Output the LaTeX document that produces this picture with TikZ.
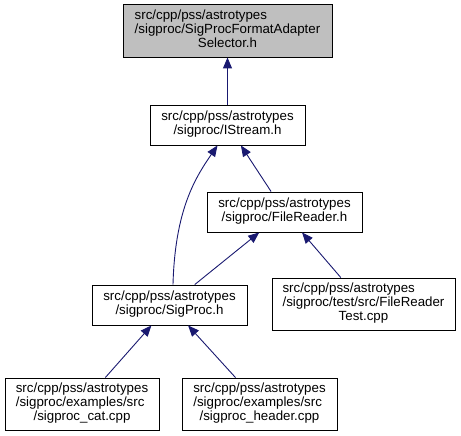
\documentclass[tikz,border=0pt]{standalone}
\usepackage{fontspec}
\setmainfont{Liberation Sans}
\usepackage{xcolor}
\usepackage{tikz}
\usetikzlibrary{arrows.meta}

\definecolor{edgeblue}{HTML}{191970}
\definecolor{curgray}{HTML}{BFBFBF}
\newcommand{\flbl}[2]{\begin{tabular}{@{}c@{}}\begin{tabular}[b]{@{}l@{}}#1\end{tabular}\\#2\end{tabular}}

\begin{document}
\begin{tikzpicture}[x=1pt,y=-1pt,
    file/.style={draw=black,line width=0.9pt,inner sep=0pt,
      font=\fontsize{13.3}{14}\selectfont},
    edge/.style={draw=edgeblue,line width=0.9pt,
      {Triangle[length=11pt,width=9pt]}-}]
  \useasboundingbox (0,0) rectangle (461,436);
  % files
  \node[file,fill=curgray,minimum width=209,minimum height=53] (selector) at (227.5,30.5)
    {\flbl{src/cpp/pss/astrotypes\\/sigproc/SigProcFormatAdapter}{Selector.h}};
  \node[file,minimum width=155,minimum height=40] (istream) at (227.5,125)
    {\flbl{src/cpp/pss/astrotypes}{/sigproc/IStream.h}};
  \node[file,minimum width=155,minimum height=40] (filereader) at (284.5,212)
    {\flbl{src/cpp/pss/astrotypes}{/sigproc/FileReader.h}};
  \node[file,minimum width=155,minimum height=40] (sigproc) at (169.5,305)
    {\flbl{src/cpp/pss/astrotypes}{/sigproc/SigProc.h}};
  \node[file,minimum width=183,minimum height=52] (frtest) at (363.5,304)
    {\flbl{src/cpp/pss/astrotypes\\/sigproc/test/src/FileReader}{Test.cpp}};
  \node[file,minimum width=154,minimum height=52] (cat) at (82,404)
    {\flbl{src/cpp/pss/astrotypes\\/sigproc/examples/src}{/sigproc\_cat.cpp}};
  \node[file,minimum width=155,minimum height=52] (header) at (259.5,404)
    {\flbl{src/cpp/pss/astrotypes\\/sigproc/examples/src}{/sigproc\_header.cpp}};
  % includes
  \draw[edge] (selector) -- (istream);
  \draw[edge] (istream) -- (filereader);
  \draw[edge] ([xshift=-10]istream.south) .. controls +(-22,32) and +(2,-75) .. ([xshift=3.5]sigproc.north);
  \draw[edge] (filereader) -- (sigproc);
  \draw[edge] (filereader) -- (frtest);
  \draw[edge] (sigproc) -- (cat);
  \draw[edge] (sigproc) -- (header);
\end{tikzpicture}
\end{document}
